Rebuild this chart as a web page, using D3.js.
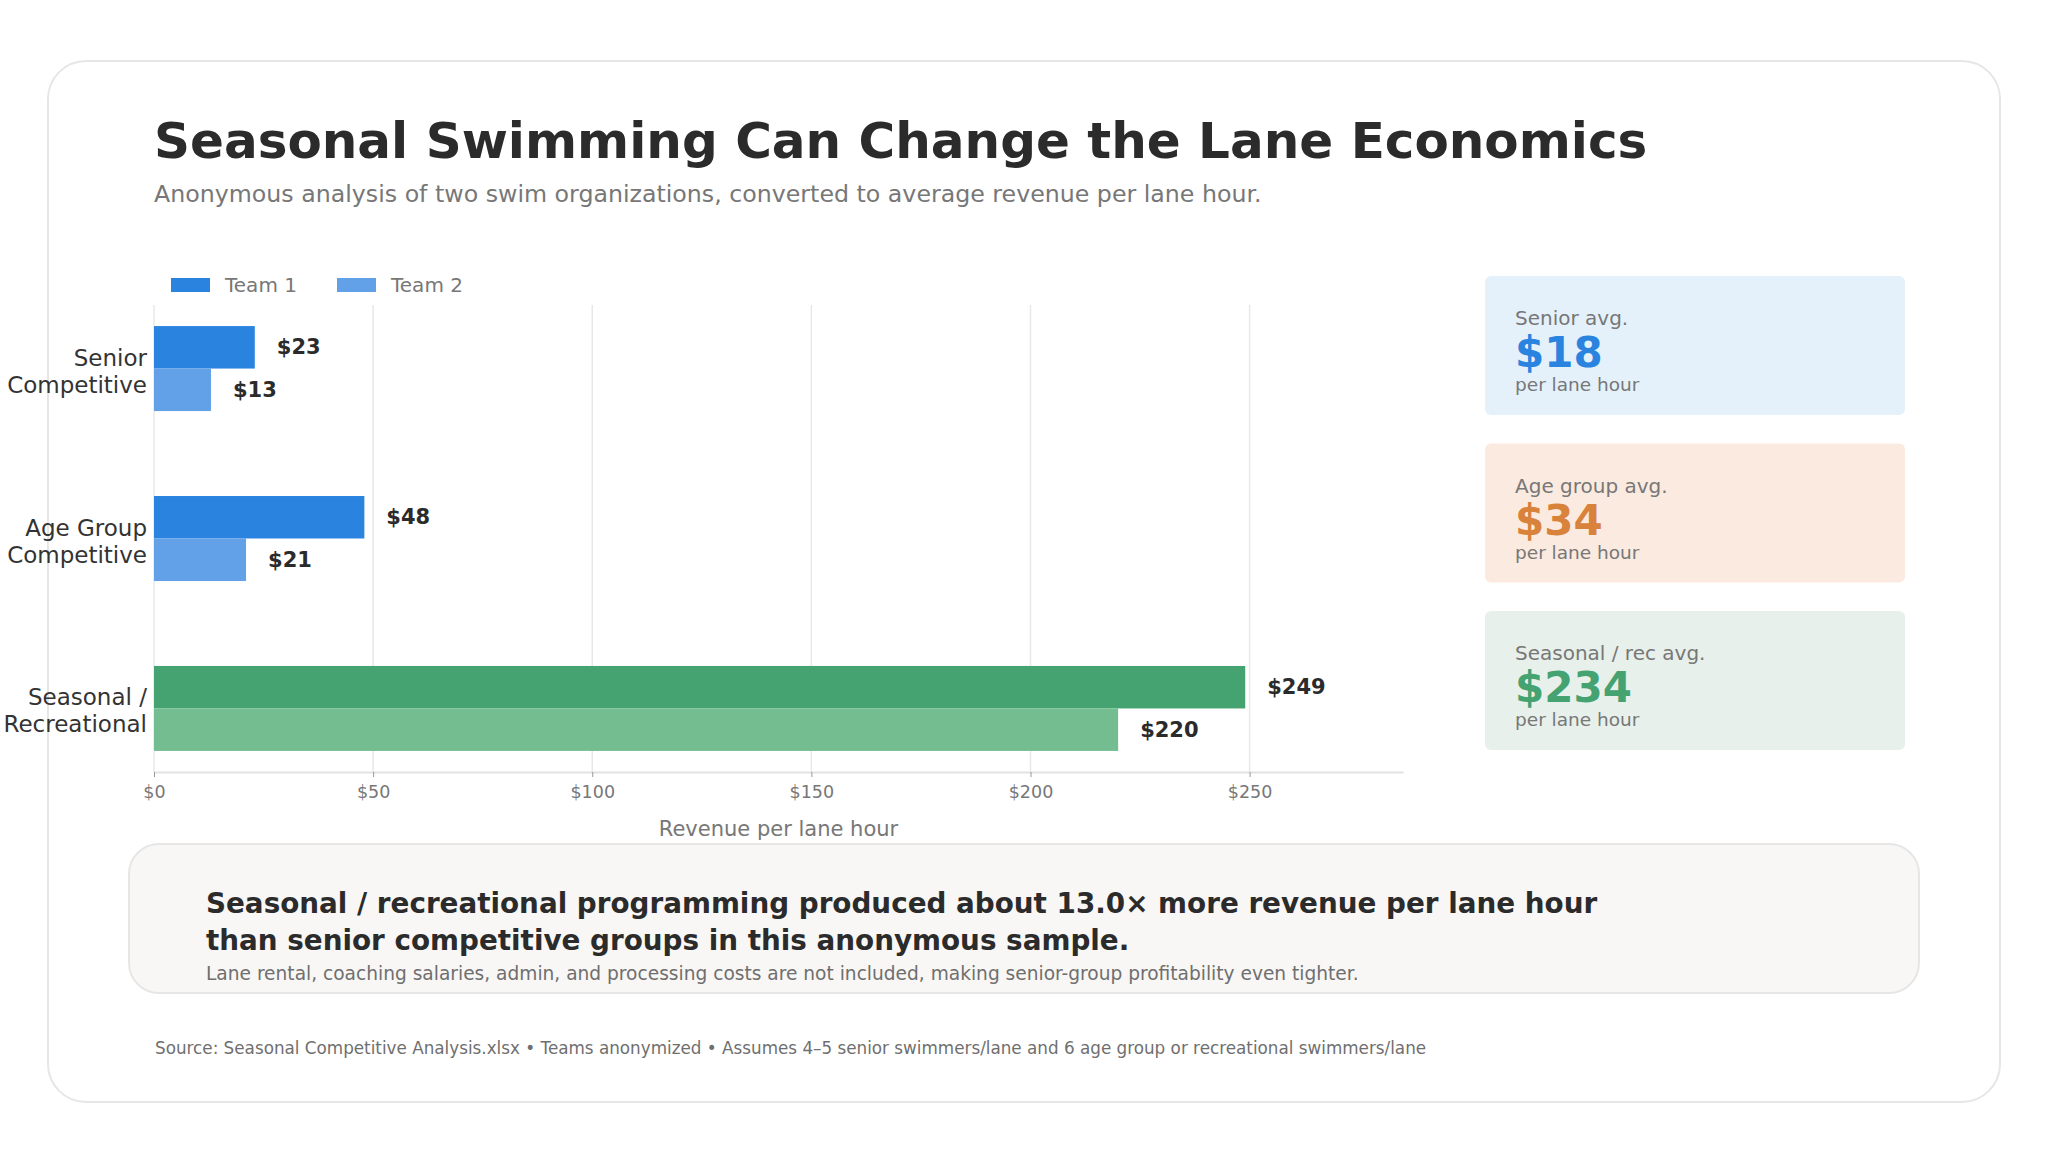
<!DOCTYPE html>
<html>
<head>
<meta charset="utf-8">
<script src="https://cdn.jsdelivr.net/npm/d3@7"></script>
<style>
    body { margin: 0; background: #ffffff; }
    svg { display: block; font-family: "DejaVu Sans", sans-serif; }
</style>
</head>
<body>
<svg id="drawing_region"></svg>
<script>
// data
const categories = [["Senior", "Competitive"], ["Age Group", "Competitive"], ["Seasonal /", "Recreational"]];
const series = ["Team 1", "Team 2"];
const team1 = [23, 48, 249];
const team2 = [13, 21, 220];
const xTicks = [0, 50, 100, 150, 200, 250];

const cardLabels = ["Senior avg.", "Age group avg.", "Seasonal / rec avg."];
const cardValues = [18, 34, 234];

const titleText = "Seasonal Swimming Can Change the Lane Economics";
const subtitleText = "Anonymous analysis of two swim organizations, converted to average revenue per lane hour.";
const calloutLines = ["Seasonal / recreational programming produced about 13.0\u00d7 more revenue per lane hour",
                      "than senior competitive groups in this anonymous sample."];
const calloutNote = "Lane rental, coaching salaries, admin, and processing costs are not included, making senior-group profitability even tighter.";
const sourceText = "Source: Seasonal Competitive Analysis.xlsx \u2022 Teams anonymized \u2022 Assumes 4\u20135 senior swimmers/lane and 6 age group or recreational swimmers/lane";

// colours per category row: [team1, team2]
const barColors = [["#2a84df", "#62a0e8"], ["#2a84df", "#62a0e8"], ["#45a271", "#74bd91"]];
const cardFills = ["#e4f1fb", "#fbeadf", "#e7f0ea"];
const cardInk = ["#2a84df", "#d9823b", "#45a271"];

const W = 2048, H = 1152;
const svg = d3.select('#drawing_region')
    .attr('width', W)
    .attr('height', H);

// outer card
svg.append('rect')
    .attr('x', 48).attr('y', 61)
    .attr('width', 1952).attr('height', 1041)
    .attr('rx', 38)
    .attr('fill', '#ffffff')
    .attr('stroke', '#e6e6e6')
    .attr('stroke-width', 2);

// title + subtitle
svg.append('text')
    .attr('x', 154).attr('y', 158)
    .attr('fill', '#2b2b2b')
    .style('font-size', '50px')
    .style('font-weight', 'bold')
    .text(titleText);

svg.append('text')
    .attr('x', 154).attr('y', 202)
    .attr('fill', '#777777')
    .style('font-size', '23.7px')
    .text(subtitleText);

// chart
const plot = {left: 154, right: 1403, top: 305, bottom: 772};

const xscale = d3.scaleLinear()
    .domain([0, 285])
    .range([plot.left, plot.right]);

const yscale = d3.scaleBand()
    .domain(d3.range(categories.length))
    .range([plot.top, plot.bottom])
    .paddingInner(0.5)
    .paddingOuter(0.124);

const sub = d3.scaleBand()
    .domain(series)
    .range([0, yscale.bandwidth()]);

// gridlines
svg.append('g')
    .selectAll('line')
    .data(xTicks)
    .join('line')
    .attr('x1', d => xscale(d)).attr('x2', d => xscale(d))
    .attr('y1', plot.top).attr('y2', plot.bottom)
    .attr('stroke', '#e8e8e8')
    .attr('stroke-width', 1.5);

// x axis
const xaxis = d3.axisBottom(xscale)
    .tickValues(xTicks)
    .tickFormat(d => '$' + d)
    .tickSize(5)
    .tickSizeOuter(0);

const xaxis_group = svg.append('g')
    .attr('transform', `translate(0, ${plot.bottom})`)
    .call(xaxis);
xaxis_group.select('.domain').attr('stroke', '#e2e2e2').attr('stroke-width', 2);
xaxis_group.selectAll('.tick line').attr('stroke', '#999999');
xaxis_group.selectAll('.tick text')
    .attr('fill', '#777777')
    .attr('dy', '1.05em')
    .style('font-size', '17.5px')
    .style('font-family', '"DejaVu Sans", sans-serif');

svg.append('text')
    .attr('x', (plot.left + plot.right) / 2)
    .attr('y', 836)
    .attr('text-anchor', 'middle')
    .attr('fill', '#777777')
    .style('font-size', '21px')
    .text('Revenue per lane hour');

// bars
const rows = categories.map((c, i) => ({i: i, values: [team1[i], team2[i]]}));
const bars = [];
rows.forEach(r => r.values.forEach((v, j) => bars.push({i: r.i, s: series[j], j: j, v: v})));

svg.append('g')
    .selectAll('rect')
    .data(bars)
    .join('rect')
    .attr('x', xscale(0))
    .attr('y', d => yscale(d.i) + sub(d.s))
    .attr('width', d => xscale(d.v) - xscale(0))
    .attr('height', sub.bandwidth())
    .attr('fill', d => barColors[d.i][d.j]);

svg.append('g')
    .selectAll('text')
    .data(bars)
    .join('text')
    .attr('x', d => xscale(d.v) + 22)
    .attr('y', d => yscale(d.i) + sub(d.s) + sub.bandwidth() / 2 + 7)
    .attr('fill', '#2b2b2b')
    .style('font-size', '21px')
    .style('font-weight', 'bold')
    .text(d => '$' + d.v);

// category labels
const ylab = svg.append('g')
    .selectAll('text')
    .data(rows)
    .join('text')
    .attr('text-anchor', 'end')
    .attr('fill', '#333333')
    .style('font-size', '23px');
ylab.selectAll('tspan')
    .data(d => categories[d.i].map((t, k) => ({t: t, k: k, i: d.i})))
    .join('tspan')
    .attr('x', plot.left - 7)
    .attr('y', d => yscale(d.i) + yscale.bandwidth() / 2 - 3 + d.k * 27)
    .text(d => d.t);

// legend
const legend = svg.append('g')
    .selectAll('g')
    .data(series)
    .join('g')
    .attr('transform', (d, i) => `translate(${171 + i * 166}, 278)`);
legend.append('rect')
    .attr('width', 39).attr('height', 14)
    .attr('fill', (d, i) => barColors[0][i]);
legend.append('text')
    .attr('x', 54).attr('y', 14)
    .attr('fill', '#777777')
    .style('font-size', '20px')
    .text(d => d);

// summary cards
const cards = svg.append('g')
    .selectAll('g')
    .data(cardLabels)
    .join('g')
    .attr('transform', (d, i) => `translate(1485, ${276 + i * 167.5})`);
cards.append('rect')
    .attr('width', 420).attr('height', 139)
    .attr('rx', 6)
    .attr('fill', (d, i) => cardFills[i]);
cards.append('text')
    .attr('x', 30).attr('y', 49)
    .attr('fill', '#777777')
    .style('font-size', '20px')
    .text(d => d);
cards.append('text')
    .attr('x', 30).attr('y', 91)
    .attr('fill', (d, i) => cardInk[i])
    .style('font-size', '42px')
    .style('font-weight', 'bold')
    .text((d, i) => '$' + cardValues[i]);
cards.append('text')
    .attr('x', 30).attr('y', 115)
    .attr('fill', '#777777')
    .style('font-size', '18.5px')
    .text('per lane hour');

// callout
svg.append('rect')
    .attr('x', 129).attr('y', 844)
    .attr('width', 1790).attr('height', 149)
    .attr('rx', 30)
    .attr('fill', '#f8f7f5')
    .attr('stroke', '#e6e6e6')
    .attr('stroke-width', 2);

svg.append('g')
    .selectAll('text')
    .data(calloutLines)
    .join('text')
    .attr('x', 206)
    .attr('y', (d, i) => 913 + i * 37)
    .attr('fill', '#2b2b2b')
    .style('font-size', '27.8px')
    .style('font-weight', 'bold')
    .text(d => d);

svg.append('text')
    .attr('x', 206).attr('y', 980)
    .attr('fill', '#6f6f6f')
    .style('font-size', '18.6px')
    .text(calloutNote);

svg.append('text')
    .attr('x', 155).attr('y', 1054)
    .attr('fill', '#6f6f6f')
    .style('font-size', '16.8px')
    .text(sourceText);
</script>
</body>
</html>
